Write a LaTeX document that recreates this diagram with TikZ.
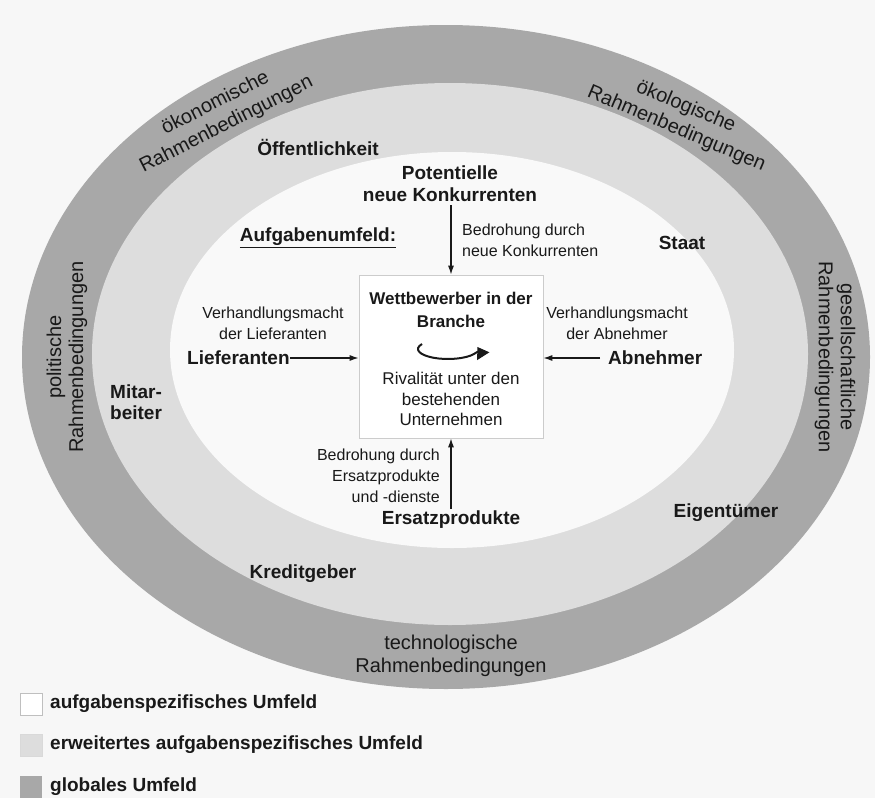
\documentclass[tikz,border=0pt]{standalone}
\usepackage{fontspec}
\setmainfont{Liberation Sans}
\usetikzlibrary{arrows.meta}
\definecolor{bgc}{RGB}{247,247,247}
\definecolor{outerc}{RGB}{168,168,168}
\definecolor{midc}{RGB}{221,221,221}
\definecolor{innerc}{RGB}{249,249,249}
\definecolor{txt}{RGB}{25,25,25}
\begin{document}
\begin{tikzpicture}[x=1pt,y=-1pt,
  lbl/.style={font=\fontsize{19}{22}\selectfont\bfseries, inner sep=0pt, text=txt, align=center},
  sml/.style={font=\fontsize{16}{21}\selectfont, inner sep=0pt, align=center, text=txt},
  band/.style={font=\fontsize{20}{24}\selectfont, inner sep=0pt, align=center, text=txt},
  boxb/.style={font=\fontsize{17}{23}\selectfont\bfseries, inner sep=0pt, align=center, text=txt},
  boxr/.style={font=\fontsize{17}{20.5}\selectfont, inner sep=0pt, align=center, text=txt},
  arr/.style={-{Latex[length=9pt,width=6pt]}, line width=1.3pt, draw=txt},
  legsq/.style={minimum size=22pt, inner sep=0pt, draw=black!25, line width=0.5pt},
  legtx/.style={font=\fontsize{19}{22}\selectfont\bfseries, inner sep=0pt, anchor=west, text=txt},
]
\fill[bgc] (0,0) rectangle (875,798);
\useasboundingbox (0,0) rectangle (875,798);

% rings
\fill[outerc] (446,357) ellipse [x radius=424pt, y radius=332pt];
\fill[midc] (450,354) ellipse [x radius=358pt, y radius=271pt];
\fill[innerc] (452,350) ellipse [x radius=282pt, y radius=198pt];

% global environment labels
\node[band, rotate=27] (oek) at (221,114) {ökonomische\\Rahmenbedingungen};
\node[band, rotate=-23] (oeko) at (681,118) {ökologische\\Rahmenbedingungen};
\node[band, rotate=90, font=\fontsize{20}{22}\selectfont] (pol) at (67,357) {politische\\Rahmenbedingungen};
\node[band, rotate=-90, font=\fontsize{20}{22}\selectfont] (ges) at (835,357) {gesellschaftliche\\Rahmenbedingungen};
\node[band, font=\fontsize{20}{23}\selectfont] (tech) at (451,656) {technologische\\Rahmenbedingungen};

% extended task environment
\node[lbl] (oeff) at (318,147) {Öffentlichkeit};
\node[lbl] (staat) at (682,243) {Staat};
\node[lbl, anchor=west, align=left, font=\fontsize{19}{21}\selectfont\bfseries] (mit) at (110,402) {Mitar-\\beiter};
\node[lbl] (eig) at (726,513) {Eigentümer};
\node[lbl] (kred) at (303,574) {Kreditgeber};

% task environment
\node[lbl] (aufg) at (318,238) {\underline{Aufgabenumfeld:}};
\node[lbl] (pot) at (450,184) {Potentielle\\neue Konkurrenten};
\node[sml, anchor=west, align=left] (bnk) at (462,240) {Bedrohung durch\\neue Konkurrenten};

\node[draw=black!20, fill=white, line width=0.6pt, minimum width=184pt, minimum height=163pt, inner sep=0pt] (box) at (451,356.5) {};
\node[boxb] (wb) at (451,309.5) {Wettbewerber in der\\Branche};
\node[boxr] (riv) at (451,399) {Rivalität unter den\\bestehenden\\Unternehmen};
\coordinate (rc) at (448,349);
\draw[line width=2pt, draw=txt, -{Triangle[length=11pt,width=14pt]}]
  ([shift={(150:30pt and 10pt)}]rc) arc[start angle=150, end angle=372, x radius=30pt, y radius=10pt];

\node[sml] (vl) at (273,323) {Verhandlungsmacht\\der Lieferanten};
\node[sml] (va) at (617,323) {Verhandlungsmacht\\der Abnehmer};
\node[lbl, anchor=west] (lief) at (187,358) {Lieferanten};
\node[lbl, anchor=west] (abn) at (608,358) {Abnehmer};

\node[sml, anchor=east, align=right] (bes) at (440,476) {Bedrohung durch\\Ersatzprodukte\\und -dienste};
\node[lbl] (ers) at (451,520) {Ersatzprodukte};

\draw[arr] (pot.south -| box.north) ++(0,3) -- (box.north);
\draw[arr] (lief.east) -- (lief.east -| box.west);
\draw[arr] (abn.west) ++(-8,0) -- (abn.west -| box.east);
\draw[arr] (ers.north -| box.south) ++(0,-2) -- (box.south);

% legend
\node[legsq, fill=white] (l1) at (31,704) {};
\node[legsq, fill=midc, draw=black!15] (l2) at (31,745) {};
\node[legsq, fill=outerc, draw=none] (l3) at (31,787) {};
\node[legtx] (t1) at (50,704) {aufgabenspezifisches Umfeld};
\node[legtx] (t2) at (50,745) {erweitertes aufgabenspezifisches Umfeld};
\node[legtx] (t3) at (50,787) {globales Umfeld};
\end{tikzpicture}
\end{document}
